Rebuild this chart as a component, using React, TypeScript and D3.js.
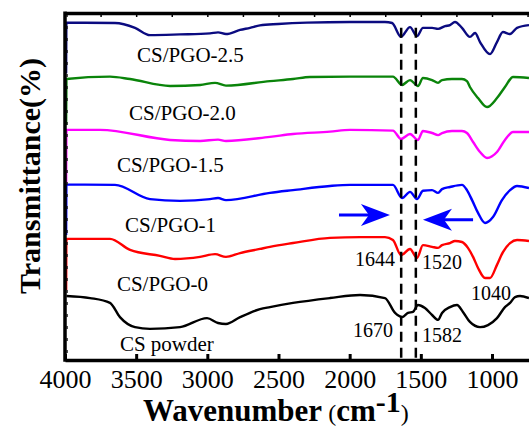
import React from "react";
import * as d3 from "d3";

// FTIR spectra, values (wavenumber cm-1, transmittance a.u.)
const wavenumberTicks = [4000, 3500, 3000, 2500, 2000, 1500, 1000];
const topMinorTicks = [3750, 3500, 3250, 3000, 2750, 2500, 2250, 2000, 1750, 1500, 1250, 1000, 750];

const seriesNames = ["CS/PGO-2.5", "CS/PGO-2.0", "CS/PGO-1.5", "CS/PGO-1", "CS/PGO-0", "CS powder"];

const pgo25: [number, number][] = [
  [3992, 82.9], [3990, 97.5], [3649, 97.4], [3508, 96.0], [3403, 93.9], [3192, 94.1],
  [2981, 94.4], [2925, 94.7], [2869, 94.2], [2770, 95.4], [2700, 96.0], [2630, 96.7],
  [2503, 97.1], [2300, 97.5], [1998, 97.7], [1752, 97.7], [1702, 97.4], [1639, 93.4],
  [1576, 96.2], [1527, 93.6], [1485, 96.0], [1421, 96.0], [1379, 95.7], [1330, 96.5],
  [1295, 96.8], [1260, 97.7], [1211, 96.0], [1155, 93.4], [1119, 94.5], [1084, 91.9],
  [1014, 88.4], [965, 91.9], [923, 94.8], [873, 94.2], [824, 96.0], [740, 96.8],
];

const pgo20: [number, number][] = [
  [3992, 67.9], [3990, 81.2], [3684, 81.9], [3543, 81.2], [3262, 79.2], [3051, 79.5],
  [2946, 80.1], [2869, 79.3], [2560, 80.6], [2398, 81.2], [2279, 81.8], [1998, 81.9],
  [1696, 81.9], [1632, 79.5], [1576, 80.9], [1520, 79.2], [1485, 81.5], [1421, 80.9],
  [1379, 80.1], [1351, 80.9], [1281, 81.2], [1211, 81.2], [1176, 80.6], [1155, 78.9],
  [1098, 75.7], [1035, 73.1], [965, 75.7], [909, 78.9], [852, 81.8], [740, 81.5],
];

const pgo15: [number, number][] = [
  [3992, 51.2], [3990, 66.5], [3754, 66.5], [3262, 63.6], [3051, 63.3], [2925, 63.7],
  [2869, 63.3], [2560, 64.5], [2398, 65.3], [2138, 66.0], [1998, 66.5], [1696, 66.3],
  [1639, 63.9], [1576, 65.3], [1520, 63.6], [1485, 66.2], [1421, 65.6], [1379, 65.0],
  [1351, 65.6], [1281, 66.2], [1211, 66.2], [1176, 65.6], [1133, 63.0], [1084, 60.1],
  [1035, 58.4], [965, 60.1], [909, 63.6], [852, 65.9], [740, 65.9],
];

const pgo10: [number, number][] = [
  [3992, 36.1], [3990, 50.7], [3649, 50.6], [3403, 46.5], [3192, 46.0], [2981, 46.5],
  [2925, 46.8], [2869, 46.2], [2560, 48.3], [2398, 49.1], [2138, 50.3], [1998, 50.6],
  [1696, 50.6], [1632, 46.8], [1576, 48.6], [1527, 46.5], [1485, 48.9], [1421, 49.1],
  [1379, 48.3], [1351, 49.4], [1295, 50.0], [1211, 50.6], [1176, 49.1], [1140, 46.2],
  [1098, 42.5], [1049, 39.6], [993, 41.3], [930, 46.2], [873, 49.1], [824, 50.3], [740, 49.7],
];

const pgo0: [number, number][] = [
  [3992, 20.2], [3990, 35.0], [3684, 35.0], [3543, 31.8], [3333, 30.1], [3227, 29.2],
  [3051, 29.8], [2946, 30.6], [2869, 29.8], [2770, 30.9], [2630, 32.1], [2560, 32.7],
  [2398, 33.8], [2138, 35.3], [1927, 35.5], [1752, 35.5], [1696, 34.7], [1639, 30.3],
  [1576, 32.1], [1527, 29.5], [1485, 33.2], [1421, 32.7], [1379, 32.4], [1351, 33.2],
  [1295, 33.8], [1260, 34.4], [1211, 34.1], [1169, 32.4], [1133, 29.8], [1098, 26.6],
  [1049, 23.7], [1014, 23.7], [965, 27.5], [923, 31.2], [873, 33.8], [824, 34.7], [740, 34.4],
];

const csPowder: [number, number][] = [
  [3990, 18.5], [3824, 17.9], [3684, 16.5], [3614, 12.4], [3508, 9.5], [3403, 9.0],
  [3192, 9.5], [3002, 12.1], [2925, 10.7], [2869, 10.4], [2770, 12.4], [2630, 14.7],
  [2560, 15.3], [2398, 16.5], [2138, 17.9], [1927, 18.8], [1752, 17.9], [1681, 13.6],
  [1632, 12.4], [1590, 13.6], [1555, 13.9], [1520, 15.9], [1471, 15.0], [1421, 13.0],
  [1379, 11.6], [1351, 13.6], [1295, 15.3], [1246, 15.9], [1204, 13.9], [1155, 11.0],
  [1084, 9.5], [1028, 10.1], [965, 12.1], [909, 15.3], [873, 16.5], [838, 18.2],
  [803, 18.5], [740, 17.9],
];

const seriesData = [pgo25, pgo20, pgo15, pgo10, pgo0, csPowder];
const peakLabels = ["1644", "1520", "1040", "1670", "1582"];
const markedBands = [1638, 1535];

// layout (data coordinates of annotations)
const seriesColors = ["#0b0b80", "#0a840a", "#ff00ff", "#0000ff", "#ff0000", "#000000"];
const seriesLabelPos = [
  [3494, 86.1], [3550, 69.4], [3635, 54.3], [3578, 37.0], [3635, 19.9], [3614, 2.6],
];
const peakLabelPos: [number, number, string][] = [
  [1681, 27.2, "end"], [1492, 26.3, "start"], [1147, 17.3, "start"],
  [1695, 6.6, "end"], [1492, 5.2, "start"],
];
const arrows = [
  { from: 2075, to: 1717, v: 41.9 },
  { from: 1133, to: 1485, v: 40.5 },
];

const W = 529;
const H = 429;
const FONT = "'Liberation Serif', 'Times New Roman', serif";

const App = () => {
  const ref = React.useRef<SVGSVGElement>(null);

  React.useEffect(() => {
    const svg = d3.select(ref.current);
    svg.selectAll("*").remove();

    const x = d3.scaleLinear().domain([4000, 740]).range([65, 529]);
    const y = d3.scaleLinear().domain([0, 100]).range([360, 14]);

    // spectra
    const line = d3
      .line<[number, number]>()
      .x((d) => x(d[0]))
      .y((d) => y(d[1]))
      .curve(d3.curveMonotoneX);

    seriesData.forEach((s, i) => {
      svg
        .append("path")
        .attr("d", line(s))
        .attr("fill", "none")
        .attr("stroke", seriesColors[i])
        .attr("stroke-width", 2.4)
        .attr("stroke-linejoin", "round");
    });

    // dashed marker lines
    markedBands.forEach((b) => {
      svg
        .append("line")
        .attr("x1", x(b))
        .attr("x2", x(b))
        .attr("y1", y(96))
        .attr("y2", y(0))
        .attr("stroke", "#000")
        .attr("stroke-width", 2.5)
        .attr("stroke-dasharray", "10,6");
    });

    // faint dashes along left axis
    svg
      .append("line")
      .attr("x1", x(3985))
      .attr("x2", x(3985))
      .attr("y1", y(100))
      .attr("y2", y(0))
      .attr("stroke", "#222")
      .attr("stroke-width", 1.3)
      .attr("stroke-dasharray", "3,9");

    // axes
    const bottom = svg
      .append("g")
      .attr("transform", `translate(0,${y(0)})`)
      .call(
        d3
          .axisBottom(x)
          .tickValues(wavenumberTicks)
          .tickSize(-6)
          .tickSizeOuter(0)
          .tickPadding(10)
          .tickFormat((d) => String(d))
      );
    bottom.select(".domain").attr("stroke-width", 3.5);
    bottom.selectAll(".tick line").attr("stroke-width", 3);
    bottom
      .selectAll(".tick text")
      .attr("font-family", FONT)
      .attr("font-size", 26)
      .attr("fill", "#000");

    const top = svg
      .append("g")
      .attr("transform", `translate(0,${y(100) - 1})`)
      .call(
        d3
          .axisTop(x)
          .tickValues(topMinorTicks)
          .tickSize(-4)
          .tickSizeOuter(0)
          .tickFormat(() => "")
      );
    top.select(".domain").attr("stroke-width", 3.5);
    top.selectAll(".tick line").attr("stroke-width", 1.5);

    svg
      .append("line")
      .attr("x1", x(4000))
      .attr("x2", x(4000))
      .attr("y1", y(100) - 2.5)
      .attr("y2", y(0) + 1.8)
      .attr("stroke", "#000")
      .attr("stroke-width", 3.5);

    // series labels
    seriesNames.forEach((n, i) => {
      svg
        .append("text")
        .attr("x", x(seriesLabelPos[i][0]))
        .attr("y", y(seriesLabelPos[i][1]))
        .attr("font-family", FONT)
        .attr("font-size", 21)
        .attr("fill", "#000")
        .text(n);
    });

    // peak labels
    peakLabels.forEach((t, i) => {
      const [w, v, anchor] = peakLabelPos[i];
      svg
        .append("text")
        .attr("x", x(w))
        .attr("y", y(v))
        .attr("text-anchor", anchor)
        .attr("font-family", FONT)
        .attr("font-size", 20)
        .attr("fill", "#000")
        .text(t);
    });

    // arrows
    arrows.forEach((a) => {
      const x0 = x(a.from);
      const x1 = x(a.to);
      const yy = y(a.v);
      const dir = x1 > x0 ? 1 : -1;
      svg
        .append("line")
        .attr("x1", x0)
        .attr("x2", x1 - dir * 18)
        .attr("y1", yy)
        .attr("y2", yy)
        .attr("stroke", "#0000ff")
        .attr("stroke-width", 3);
      const path = d3.path();
      path.moveTo(x1, yy);
      path.lineTo(x1 - dir * 29, yy - 11);
      path.lineTo(x1 - dir * 21, yy);
      path.lineTo(x1 - dir * 29, yy + 11);
      path.closePath();
      svg.append("path").attr("d", path.toString()).attr("fill", "#0000ff");
    });

    // axis titles
    const xt = svg
      .append("text")
      .attr("x", 143)
      .attr("y", 421)
      .attr("font-family", FONT)
      .attr("fill", "#000");
    xt.append("tspan").attr("font-weight", "bold").attr("font-size", 31).text("Wavenumber");
    xt.append("tspan").attr("font-size", 24).text(" (");
    xt.append("tspan").attr("font-weight", "bold").attr("font-size", 31).text("cm");
    xt.append("tspan").attr("font-weight", "bold").attr("font-size", 30).attr("dy", -9).text("-1");
    xt.append("tspan").attr("font-size", 24).attr("dy", 9).text(")");

    svg
      .append("text")
      .attr("transform", `translate(40,${176}) rotate(-90)`)
      .attr("text-anchor", "middle")
      .attr("font-family", FONT)
      .attr("font-weight", "bold")
      .attr("font-size", 30)
      .attr("fill", "#000")
      .text("Transmittance(%)");
  }, []);

  return (
    <svg
      ref={ref}
      width={W}
      height={H}
      style={{ position: "absolute", left: 0, top: 0, background: "#fff" }}
    />
  );
};

export default App;
